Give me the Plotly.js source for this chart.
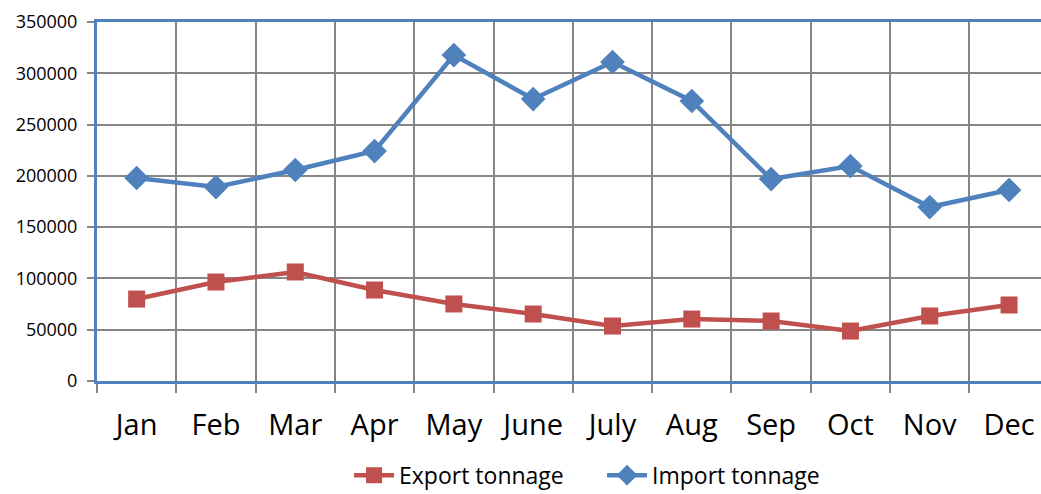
<!DOCTYPE html>
<html>
<head>
<meta charset="utf-8">
<script src="https://cdn.plot.ly/plotly-3.0.1.min.js"></script>
<style>
  html, body { margin: 0; padding: 0; overflow: hidden; background: #fff; }
</style>
</head>
<body>
<div id="chart" style="width:1041px;height:494px;"></div>
<script>
// Monthly tonnage
var months = ["Jan", "Feb", "Mar", "Apr", "May", "June", "July", "Aug", "Sep", "Oct", "Nov", "Dec"];
var exportTonnage = [79900, 96500, 106300, 88700, 75100, 65300, 53600, 60400, 58500, 48700, 63400, 74100];
var importTonnage = [197900, 189100, 205700, 224200, 317800, 274900, 311000, 273000, 196900, 209600, 169600, 186200];
var yTicks = [0, 50000, 100000, 150000, 200000, 250000, 300000, 350000];

var trace1 = {
  x: months,
  y: exportTonnage,
  mode: "lines+markers",
  type: "scatter",
  name: "Export tonnage",
  line: { color: "#C0504D", width: 4.5 },
  marker: { color: "#C0504D", symbol: "square", size: 17 }
};

var trace2 = {
  x: months,
  y: importTonnage,
  mode: "lines+markers",
  type: "scatter",
  name: "Import tonnage",
  line: { color: "#4F81BD", width: 4.5 },
  marker: { color: "#4F81BD", symbol: "diamond", size: 19 }
};

var data = [trace1, trace2];

var layout = {
  width: 1041,
  height: 494,
  margin: { l: 97, r: 0, t: 22, b: 113 },
  paper_bgcolor: "#fff",
  plot_bgcolor: "#fff",
  font: { family: "Open Sans, Liberation Sans, sans-serif", color: "#000" },
  showlegend: true,
  legend: {
    orientation: "h",
    x: 0.267,
    xanchor: "left",
    xref: "paper",
    y: 0.038,
    yanchor: "middle",
    yref: "container",
    font: { size: 23 },
    itemwidth: 40,
    entrywidth: 198
  },
  xaxis: {
    type: "category",
    range: [-0.5, 11.403],
    tickson: "boundaries",
    showgrid: true,
    gridcolor: "#868686",
    gridwidth: 2,
    ticks: "outside",
    ticklen: 9,
    tickwidth: 2,
    tickcolor: "#868686",
    ticklabelstandoff: 16,
    tickfont: { size: 29 },
    showline: true,
    linecolor: "#4F81BD",
    linewidth: 3,
    mirror: true,
    zeroline: false,
    automargin: false
  },
  yaxis: {
    range: [0, 350000],
    tickvals: yTicks,
    ticktext: yTicks.map(String),
    showgrid: true,
    gridcolor: "#868686",
    gridwidth: 2,
    ticks: "outside",
    ticklen: 7,
    tickwidth: 2,
    tickcolor: "#868686",
    ticklabelstandoff: 6,
    tickfont: { size: 18 },
    showline: true,
    linecolor: "#4F81BD",
    linewidth: 3,
    zeroline: false,
    automargin: false
  }
};

Plotly.newPlot("chart", data, layout, { displayModeBar: false, staticPlot: true });
</script>
</body>
</html>
